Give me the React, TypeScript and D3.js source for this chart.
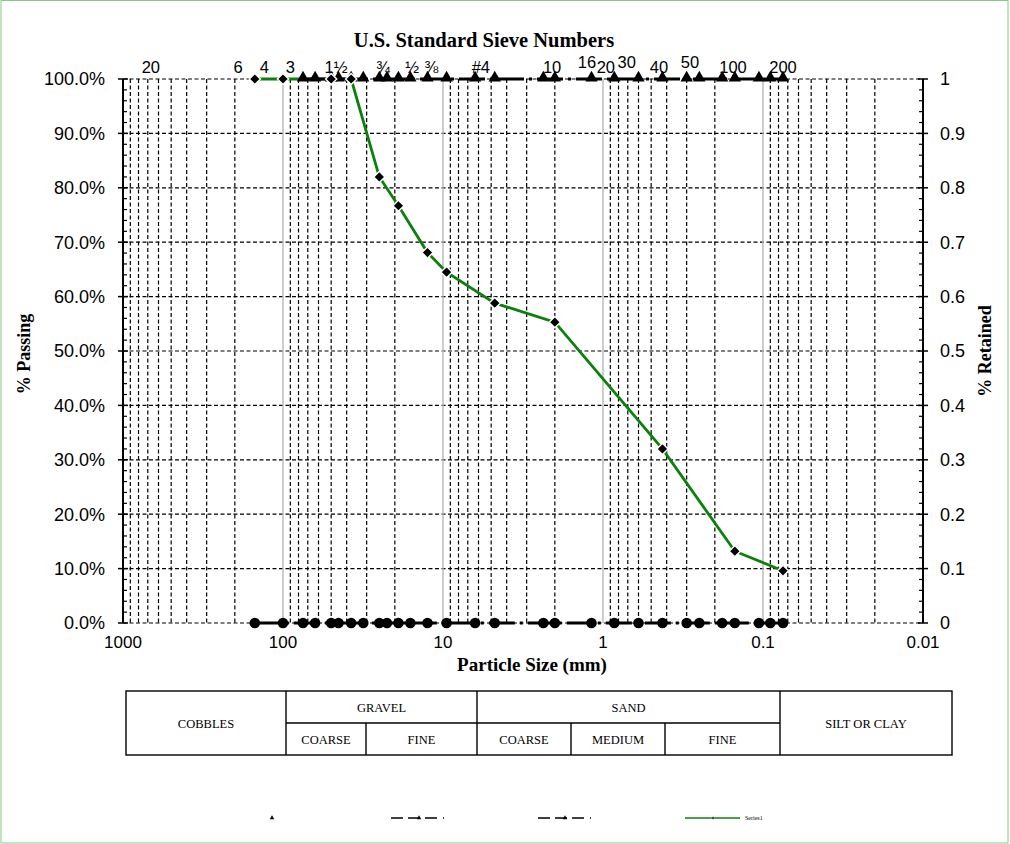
import * as d3 from 'd3'
import { FC } from 'react'

// sieve openings (mm) used for the retained markers
const sieveSizes = [150, 100, 75, 63, 50, 45, 37.5, 31.5, 25, 22.4, 19, 16, 12.5, 9.5, 6.3, 4.75, 2.36, 2.0, 1.18, 0.85, 0.6, 0.425, 0.3, 0.25, 0.18, 0.15, 0.106, 0.09, 0.075]
const topSieveSizes = [75, 63, 50, 45, 37.5, 31.5, 25, 22.4, 19, 16, 12.5, 9.5, 6.3, 4.75, 2.36, 2.0, 1.18, 0.85, 0.6, 0.425, 0.3, 0.25, 0.18, 0.15, 0.106, 0.09, 0.075]
// gradation curve
const sampleSizes = [150, 100, 50, 37.5, 25, 19, 12.5, 9.5, 4.75, 2.0, 0.425, 0.15, 0.075]
const percentPassing = [100, 100, 100, 100, 82.0, 76.7, 68.1, 64.5, 58.8, 55.3, 32.0, 13.2, 9.6]
// sieve number labels along the top, placed at a size on the axis
const sieveLabels = ['20', '6', '4', '3', '1½', '¾', '½', '⅜', '#4', '10', '16', '20', '30', '40', '50', '100', '200']
const sieveLabelAt = [670, 191, 131, 90, 46.6, 23.7, 15.6, 11.8, 5.8, 2.08, 1.26, 0.96, 0.71, 0.447, 0.286, 0.154, 0.075]
const raisedLabels = [10, 12, 14]
const xTickLabels = ['1000', '100', '10', '1', '0.1', '0.01']
const xTickValues = [1000, 100, 10, 1, 0.1, 0.01]
const yTickValues = [0, 10, 20, 30, 40, 50, 60, 70, 80, 90, 100]
const yRightLabels = ['0', '0.1', '0.2', '0.3', '0.4', '0.5', '0.6', '0.7', '0.8', '0.9', '1']
// soil classes table
const mainClasses = ['COBBLES', 'GRAVEL', 'SAND', 'SILT OR CLAY']
const subClasses = ['COARSE', 'FINE', 'COARSE', 'MEDIUM', 'FINE']

const SANS = '"Liberation Sans", Arial, "DejaVu Sans", sans-serif'
const SERIF = '"Liberation Serif", "Times New Roman", serif'
const GREEN = '#0b800b'

const App: FC = () => {
  const W = 1010, H = 844
  const x = d3.scaleLog().domain([1000, 0.01]).range([123, 923])
  const y = d3.scaleLinear().domain([0, 100]).range([623, 79])
  const yR = d3.scaleLinear().domain([0, 1]).range([623, 79])
  const [x0, x1] = x.range()
  const [yb, yt] = y.range()

  const grid = x.ticks().filter(v => v < 1000 && v > 0.01)
  const isDecade = (v: number) => Math.abs(Math.log10(v) - Math.round(Math.log10(v))) < 1e-9
  const minorY = y.ticks(50).filter(v => v % 10 !== 0)

  const line = d3.line<[number, number]>().x(d => x(d[0])).y(d => d[1])
  const curve = line(sampleSizes.map((s, i) => [s, y(percentPassing[i])]))
  const topLine = line(topSieveSizes.map(s => [s, yR(1)]))
  const botLine = line(sieveSizes.map(s => [s, yR(0)]))
  const tri = d3.symbol(d3.symbolTriangle, 66)()
  const triSmall = d3.symbol(d3.symbolTriangle, 9)()
  const diamond = 'M0,-5.6L5.6,0L0,5.6L-5.6,0Z'
  const dash = '26,5,3,5'

  // table layout
  const tb = { left: 126, right: 952, top: 691, mid: 723, bottom: 755 }
  const mainCols = [126, 286, 477, 780, 952]
  const subCols = [286, 366, 477, 571, 665, 780]

  return (
    <svg width={W} height={H} style={{ position: 'absolute', left: 0, top: 0, background: '#fff' }}>
      <rect x={1} y={0.5} width={W - 3} height={H - 1.5} fill="#fff" stroke="#86c886" strokeWidth={1} />

      {/* horizontal grid */}
      {yTickValues.map(v => (
        <line key={'h' + v} x1={x0} x2={x1} y1={y(v)} y2={y(v)} stroke="#000" strokeWidth={1.2} strokeDasharray="4,2.5" />
      ))}
      {/* vertical grid */}
      {grid.map(v => isDecade(v)
        ? <line key={'v' + v} x1={x(v)} x2={x(v)} y1={yt} y2={yb} stroke="#b8b8b8" strokeWidth={1.4} />
        : <line key={'v' + v} x1={x(v)} x2={x(v)} y1={yt} y2={yb} stroke="#000" strokeWidth={1.2} strokeDasharray="4,2.5" />
      )}

      {/* left axis */}
      <line x1={x0} x2={x0} y1={yt} y2={yb} stroke="#000" strokeWidth={2} />
      {yTickValues.map(v => (
        <g key={'yl' + v}>
          <line x1={x0 - 5} x2={x0 + 5} y1={y(v)} y2={y(v)} stroke="#000" strokeWidth={1.5} />
          <text x={105} y={y(v)} dy="0.36em" textAnchor="end" fontFamily={SANS} fontSize={18}>{v.toFixed(1)}%</text>
        </g>
      ))}
      {minorY.map(v => <line key={'ym' + v} x1={x0} x2={x0 + 4} y1={y(v)} y2={y(v)} stroke="#000" strokeWidth={1.2} />)}

      {/* right axis */}
      <line x1={x1} x2={x1} y1={yt} y2={yb} stroke="#000" strokeWidth={2} />
      {yTickValues.map((v, i) => (
        <g key={'yr' + v}>
          <line x1={x1 - 5} x2={x1 + 5} y1={y(v)} y2={y(v)} stroke="#000" strokeWidth={1.5} />
          <text x={940} y={y(v)} dy="0.36em" textAnchor="start" fontFamily={SANS} fontSize={18}>{yRightLabels[i]}</text>
        </g>
      ))}
      {minorY.map(v => <line key={'yrm' + v} x1={x1 - 4} x2={x1} y1={y(v)} y2={y(v)} stroke="#000" strokeWidth={1.2} />)}

      {/* bottom tick labels */}
      {xTickValues.map((v, i) => (
        <text key={'xl' + v} x={x(v)} y={648} textAnchor="middle" fontFamily={SANS} fontSize={17}>{xTickLabels[i]}</text>
      ))}

      {/* gradation curve */}
      <path d={curve ?? ''} fill="none" stroke={GREEN} strokeWidth={2.8} />

      {/* retained sieve series */}
      <path d={topLine ?? ''} fill="none" stroke="#000" strokeWidth={2.8} strokeDasharray={dash} />
      <path d={botLine ?? ''} fill="none" stroke="#000" strokeWidth={2.8} strokeDasharray={dash} />
      {topSieveSizes.map(s => <path key={'t' + s} d={tri ?? ''} transform={`translate(${x(s)},${yR(1) - 1})`} fill="#000" />)}
      {sieveSizes.map(s => <circle key={'c' + s} cx={x(s)} cy={yR(0)} r={5.3} fill="#000" />)}

      {/* passing points */}
      {sampleSizes.map((s, i) => (
        <path key={'d' + i} d={diamond} transform={`translate(${x(s)},${y(percentPassing[i])})`} fill="#000" stroke="#fff" strokeWidth={1.4} />
      ))}

      {/* sieve numbers */}
      {sieveLabels.map((t, i) => (
        <text key={'s' + i} x={x(sieveLabelAt[i])} y={raisedLabels.includes(i) ? 68 : 73} textAnchor="middle" fontFamily={SANS} fontSize={16.5}>{t}</text>
      ))}

      {/* titles */}
      <text x={484} y={47} textAnchor="middle" fontFamily={SERIF} fontWeight="bold" fontSize={20.5}>U.S. Standard Sieve Numbers</text>
      <text x={532} y={671} textAnchor="middle" fontFamily={SERIF} fontWeight="bold" fontSize={19}>Particle Size (mm)</text>
      <text transform="translate(30,354) rotate(-90)" textAnchor="middle" fontFamily={SERIF} fontWeight="bold" fontSize={18}>% Passing</text>
      <text transform="translate(991,351) rotate(-90)" textAnchor="middle" fontFamily={SERIF} fontWeight="bold" fontSize={18}>% Retained</text>

      {/* classification table */}
      <g stroke="#000" strokeWidth={1.4} fill="none">
        <rect x={tb.left} y={tb.top} width={tb.right - tb.left} height={tb.bottom - tb.top} />
        {mainCols.slice(1, -1).map(c => <line key={'mc' + c} x1={c} x2={c} y1={tb.top} y2={tb.bottom} />)}
        <line x1={mainCols[1]} x2={mainCols[3]} y1={tb.mid} y2={tb.mid} />
        {[subCols[1], subCols[3], subCols[4]].map(c => <line key={'sc' + c} x1={c} x2={c} y1={tb.mid} y2={tb.bottom} />)}
      </g>
      <g fontFamily={SERIF} fontSize={12.5} textAnchor="middle">
        <text x={(mainCols[0] + mainCols[1]) / 2} y={(tb.top + tb.bottom) / 2 + 4.5}>{mainClasses[0]}</text>
        <text x={(mainCols[1] + mainCols[2]) / 2} y={(tb.top + tb.mid) / 2 + 4.5}>{mainClasses[1]}</text>
        <text x={(mainCols[2] + mainCols[3]) / 2} y={(tb.top + tb.mid) / 2 + 4.5}>{mainClasses[2]}</text>
        <text x={(mainCols[3] + mainCols[4]) / 2} y={(tb.top + tb.bottom) / 2 + 4.5}>{mainClasses[3]}</text>
        {subClasses.map((t, i) => (
          <text key={'st' + i} x={(subCols[i] + subCols[i + 1]) / 2} y={(tb.mid + tb.bottom) / 2 + 4.5}>{t}</text>
        ))}
      </g>

      {/* legend */}
      <g>
        <path d={triSmall ?? ''} transform="translate(272,818)" fill="#000" />
        <line x1={391} x2={447} y1={818} y2={818} stroke="#000" strokeWidth={1.3} strokeDasharray="12,5,12,5,12,6,1,6" />
        <path d={triSmall ?? ''} transform="translate(419,818)" fill="#000" />
        <line x1={538} x2={593} y1={818} y2={818} stroke="#000" strokeWidth={1.3} strokeDasharray="12,5,12,5,12,6,1,6" />
        <path d={triSmall ?? ''} transform="translate(565,818)" fill="#000" />
        <line x1={685} x2={740} y1={818} y2={818} stroke={GREEN} strokeWidth={1.3} />
        <path d="M0,-1.5L1.5,0L0,1.5L-1.5,0Z" transform="translate(713,818)" fill="#000" stroke="#fff" strokeWidth={0.5} />
        <text x={745} y={820} fontFamily={SERIF} fontSize={6}>Series1</text>
      </g>
    </svg>
  )
}

export default App
